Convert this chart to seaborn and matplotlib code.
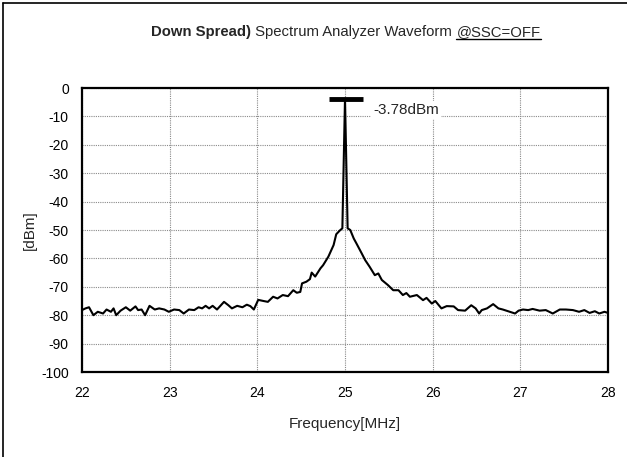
import matplotlib
matplotlib.use("Agg")
import matplotlib.pyplot as plt
import seaborn as sns
import pandas as pd
from matplotlib.ticker import MultipleLocator
from matplotlib.lines import Line2D

freq = [22.00, 22.04, 22.08, 22.13, 22.18, 22.24, 22.28, 22.33, 22.36, 22.39,
        22.44, 22.50, 22.55, 22.61, 22.64, 22.68, 22.72, 22.77, 22.83, 22.88,
        22.94, 22.99, 23.05, 23.11, 23.16, 23.22, 23.28, 23.33, 23.37, 23.41,
        23.45, 23.49, 23.54, 23.62, 23.67, 23.71, 23.77, 23.83, 23.88, 23.92,
        23.96, 24.01, 24.07, 24.12, 24.18, 24.23, 24.29, 24.35, 24.41, 24.45,
        24.49, 24.51, 24.56, 24.60, 24.62, 24.66, 24.72, 24.75, 24.79, 24.81,
        24.87, 24.90, 24.94, 24.97, 25.00, 25.03, 25.06, 25.10, 25.13, 25.19,
        25.23, 25.28, 25.34, 25.38, 25.42, 25.49, 25.55, 25.61, 25.66, 25.70,
        25.74, 25.82, 25.89, 25.93, 25.99, 26.03, 26.10, 26.16, 26.24, 26.29,
        26.37, 26.44, 26.49, 26.53, 26.56, 26.62, 26.69, 26.75, 26.80, 26.88,
        26.94, 26.98, 27.03, 27.09, 27.14, 27.22, 27.29, 27.37, 27.45, 27.52,
        27.60, 27.67, 27.73, 27.79, 27.85, 27.90, 27.96, 28.00]
level = [-78.2, -77.6, -77.2, -80.0, -78.8, -79.4, -78.0, -78.8, -77.6, -80.0,
         -78.4, -77.2, -78.4, -76.9, -78.2, -78.0, -80.0, -76.7, -78.0, -77.6,
         -78.0, -78.8, -78.0, -78.2, -79.4, -78.0, -78.2, -77.2, -77.6, -76.7,
         -77.6, -76.7, -78.0, -75.3, -76.5, -77.6, -76.7, -77.2, -76.3, -76.8,
         -78.0, -74.6, -75.0, -75.3, -73.5, -74.1, -72.9, -73.3, -71.2, -72.1,
         -71.8, -68.8, -68.2, -67.3, -65.0, -66.4, -63.5, -62.4, -60.4, -59.4,
         -55.3, -51.5, -50.2, -49.4, -3.78, -49.4, -50.0, -53.0, -54.7, -58.2,
         -60.6, -62.9, -65.9, -65.3, -67.6, -69.4, -71.2, -71.2, -72.9, -72.2,
         -73.5, -72.9, -74.7, -73.9, -75.9, -75.0, -77.6, -76.8, -76.9, -78.2,
         -78.4, -76.5, -77.6, -79.4, -78.2, -77.6, -76.1, -77.6, -78.0, -78.8,
         -79.4, -78.4, -78.0, -78.2, -77.8, -78.4, -78.2, -79.4, -78.0, -78.0,
         -78.2, -78.8, -78.2, -79.2, -78.6, -79.4, -78.8, -79.2]

x_ticks = [22, 23, 24, 25, 26, 27, 28]
y_ticks = [0, -10, -20, -30, -40, -50, -60, -70, -80, -90, -100]
peak_label = "-3.78dBm"
title_parts = ["Down Spread)", " Spectrum Analyzer Waveform ", "@SSC=OFF"]
x_label = "Frequency[MHz]"
y_label = "[dBm]"

sns.set_style("white")
plt.rcParams["font.family"] = ["Liberation Sans", "DejaVu Sans"]

fig = plt.figure(figsize=(6.27, 4.57), dpi=100)
ax = fig.add_axes([82 / 627, 1 - 372 / 457, (608 - 82) / 627, (372 - 88) / 457])

df = pd.DataFrame({"freq": freq, "level": level})
sns.lineplot(data=df, x="freq", y="level", ax=ax, color="black", lw=1.5,
             estimator=None, sort=False, zorder=3)

ax.set_xlim(22, 28)
ax.set_ylim(-100, 0)
ax.set_xticks(x_ticks)
ax.set_yticks(y_ticks)
ax.set_xticklabels([str(t) for t in x_ticks])
ax.set_yticklabels([str(t) for t in y_ticks])
ax.xaxis.set_minor_locator(MultipleLocator(0.2))
ax.yaxis.set_minor_locator(MultipleLocator(2))
ax.tick_params(axis="both", which="major", direction="in", length=5, width=0.8,
               labelsize=10, colors="black", pad=10)
ax.tick_params(axis="both", which="minor", direction="in", length=3, width=0.8)
ax.tick_params(axis="y", pad=9.5)
ax.tick_params(top=False, right=False, which="both")
ax.grid(True, which="major", color="#8a8a8a", linestyle=(0, (1, 1)), lw=0.8)
for s in ax.spines.values():
    s.set_visible(True)
    s.set_color("black")
    s.set_linewidth(1.6)
ax.set_xlabel(x_label, fontsize=11, labelpad=12)
ax.set_ylabel(y_label, fontsize=11, labelpad=3)

# peak marker
pi = level.index(max(level))
pf, pv = freq[pi], level[pi]
ax.plot([pf - 0.18, pf + 0.21], [pv, pv], color="black", lw=3.5, zorder=4,
        solid_capstyle="butt")
ax.text(pf + 0.32, pv - 4.0, peak_label, fontsize=11, va="center", ha="left",
        bbox=dict(facecolor="white", edgecolor="none", pad=1.5), zorder=5)

# figure border (left and top)
fig.add_artist(Line2D([3 / 627, 3 / 627], [0, 1 - 3 / 457], color="black", lw=1.2))
fig.add_artist(Line2D([3 / 627, 1], [1 - 3 / 457, 1 - 3 / 457], color="black", lw=1.2))

# title with mixed styling
fig.canvas.draw()
r = fig.canvas.get_renderer()
ty = 1 - 36 / 457
fs = 10.7
t1 = fig.text(0, ty, title_parts[0], fontsize=fs, fontweight="bold", va="baseline")
t2 = fig.text(0, ty, title_parts[1], fontsize=fs, va="baseline")
t3 = fig.text(0, ty, title_parts[2], fontsize=fs, va="baseline")
w1 = t1.get_window_extent(r).width
w2 = t2.get_window_extent(r).width
w3 = t3.get_window_extent(r).width
total = w1 + w2 + w3
cx = 346
x0 = cx - total / 2
W = fig.bbox.width
t1.set_x(x0 / W)
t2.set_x((x0 + w1) / W)
t3.set_x((x0 + w1 + w2) / W)
uy = ty - 3 / 457
fig.add_artist(Line2D([(x0 + w1 + w2) / W, (x0 + total) / W], [uy, uy],
                      color="black", lw=1.0))

fig.savefig("out.png", dpi=100)
